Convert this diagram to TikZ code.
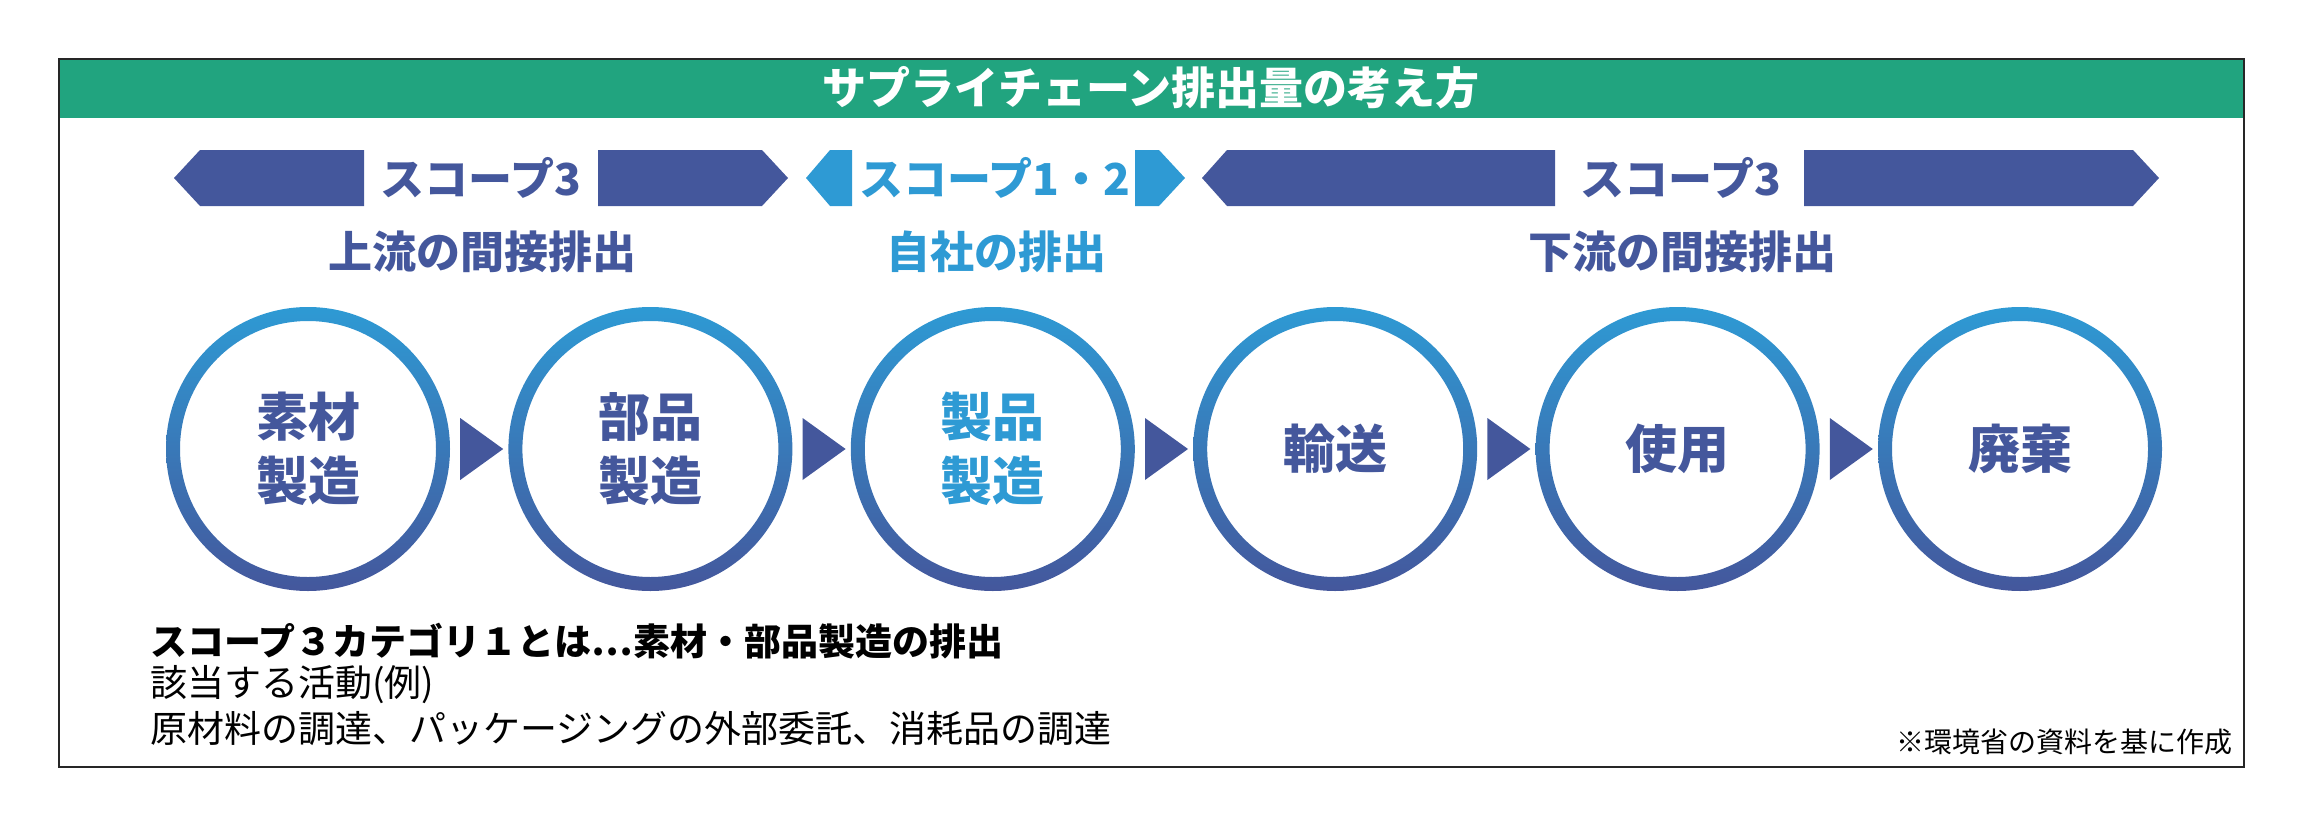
\documentclass[tikz,border=0pt]{standalone}
\usepackage{fontspec}
\newfontfamily\jp{Noto Sans CJK JP}
\usetikzlibrary{calc}
\definecolor{hdrgreen}{HTML}{21A47F}
\definecolor{indigo}{HTML}{44579C}
\definecolor{lblue}{HTML}{2E9AD4}
\definecolor{midblue}{HTML}{3579C0}
\begin{document}
\begin{tikzpicture}[x=1pt,y=-1pt,
  every node/.style={inner sep=0pt},
  hdr/.style={font=\jp\bfseries\fontsize{44}{52}\selectfont, text=white},
  scopelbl/.style={font=\jp\bfseries\fontsize{44}{52}\selectfont},
  sublbl/.style={font=\jp\bfseries\fontsize{44}{52}\selectfont},
  circ/.style={circle, minimum size=284pt, align=center, text=indigo,
    font=\jp\bfseries\fontsize{52}{64}\selectfont},
  notebold/.style={anchor=west, font=\jp\bfseries\fontsize{37}{44}\selectfont},
  note/.style={anchor=west, font=\jp\fontsize{37}{44}\selectfont},
  ring/.style={even odd rule, top color=lblue, middle color=midblue, bottom color=indigo}
]
\useasboundingbox (0,0) rectangle (2303,827);
% header
\fill[hdrgreen] (59,59) rectangle (2244,118);
\node[hdr] (title) at (1151,88) {サプライチェーン排出量の考え方};
\draw[line width=2pt, black!85] (59,59) rectangle (2244,767);

% scope bars
\fill[indigo] (174,178) -- (200,150) -- (364,150) -- (364,206) -- (200,206) -- cycle;
\fill[indigo] (598,150) -- (762,150) -- (788,178) -- (762,206) -- (598,206) -- cycle;
\node[scopelbl, text=indigo] (s1) at (481,178) {スコープ3};

\fill[lblue] (806,178) -- (830,150) -- (852,150) -- (852,206) -- (830,206) -- cycle;
\fill[lblue] (1135,150) -- (1159,150) -- (1185,178) -- (1159,206) -- (1135,206) -- cycle;
\node[scopelbl, text=lblue] (s2) at (995,178) {スコープ1・2};

\fill[indigo] (1202,178) -- (1227,150) -- (1555,150) -- (1555,206) -- (1227,206) -- cycle;
\fill[indigo] (1804,150) -- (2133,150) -- (2159,178) -- (2133,206) -- (1804,206) -- cycle;
\node[scopelbl, text=indigo] (s3) at (1681,178) {スコープ3};

% sub labels
\node[sublbl, text=indigo] (u1) at (482,252) {上流の間接排出};
\node[sublbl, text=lblue] (u2) at (996,252) {自社の排出};
\node[sublbl, text=indigo] (u3) at (1682,252) {下流の間接排出};

% circles
\node[circ] (c1) at (308,449) {素材\\製造};
\node[circ] (c2) at (650.4,449) {部品\\製造};
\node[circ, text=lblue] (c3) at (992.8,449) {製品\\製造};
\node[circ] (c4) at (1335.2,449) {輸送};
\node[circ] (c5) at (1677.6,449) {使用};
\node[circ] (c6) at (2020,449) {廃棄};
\foreach \c in {c1,c2,c3,c4,c5,c6}{
  \shade[ring] (\c) circle[radius=142] (\c) circle[radius=128];
}
\foreach \a/\b in {c1/c2,c2/c3,c3/c4,c4/c5,c5/c6}{
  \fill[indigo] ($(\a)!0.5!(\b)+(-19,-31)$) -- ++(43,31) -- ++(-43,31) -- cycle;
}

% notes
\node[notebold] (n1) at (150,641) {スコープ３カテゴリ１とは…素材・部品製造の排出};
\node[note] (n2) at (150,685) {該当する活動(例)};
\node[note] (n3) at (150,729) {原材料の調達、パッケージングの外部委託、消耗品の調達};
\node[anchor=east, font=\jp\fontsize{28}{34}\selectfont] (fn) at (2233,742) {※環境省の資料を基に作成};
\end{tikzpicture}
\end{document}
